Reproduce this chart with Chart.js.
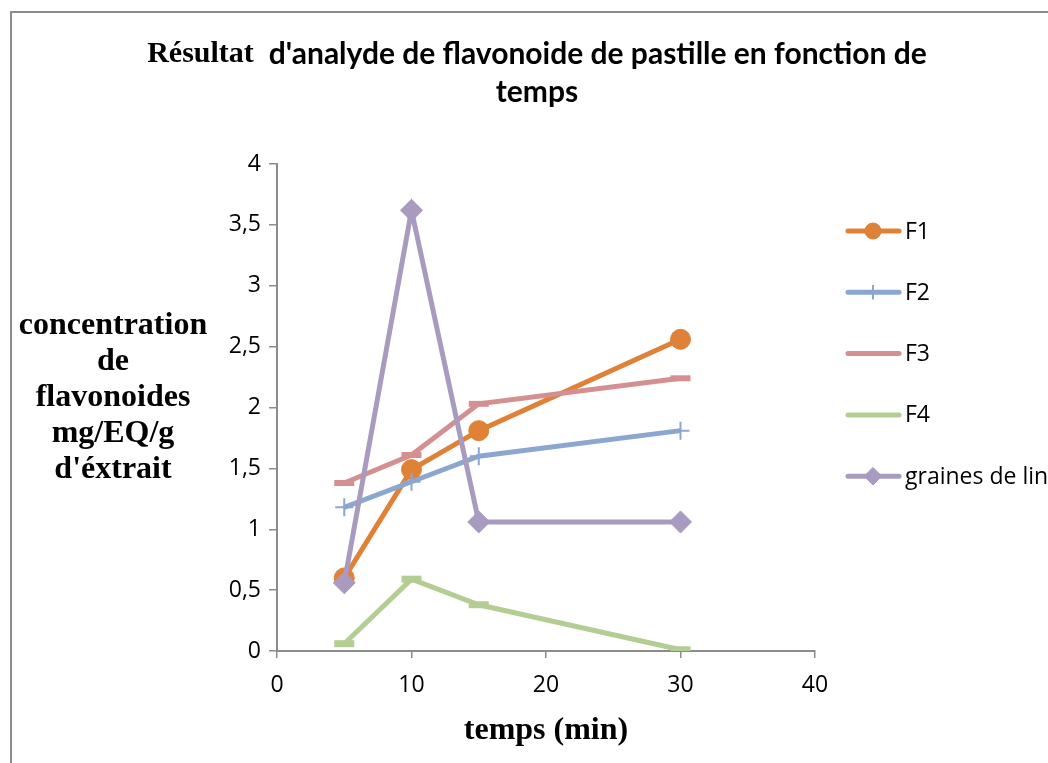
<!DOCTYPE html>
<html>
<head>
<meta charset="utf-8">
<script src="https://cdn.jsdelivr.net/npm/chart.js@4.4.1/dist/chart.umd.min.js"></script>
<style>
  html, body { margin: 0; padding: 0; background: #fff; overflow: hidden; }
  #wrap { position: relative; width: 1048px; height: 763px; }
  #frame { position: absolute; left: 10px; top: 11px; width: 1100px; height: 800px;
           border-top: 2px solid #8c8c8c; border-left: 2px solid #8c8c8c; }
  canvas { position: absolute; left: 0; top: 0; }
</style>
</head>
<body>
<div id="wrap">
  <div id="frame"></div>
  <canvas id="chart" width="1048" height="763"></canvas>
</div>
<script>
// data
const temps = [5, 10, 15, 30];
const f1 = [0.6, 1.49, 1.81, 2.56];
const f2 = [1.18, 1.39, 1.6, 1.81];
const f3 = [1.38, 1.61, 2.03, 2.24];
const f4 = [0.06, 0.59, 0.38, 0.01];
const graines = [0.56, 3.62, 1.06, 1.06];

const seriesNames = ['F1', 'F2', 'F3', 'F4', 'graines de lin'];
const yTickLabels = ['0', '0,5', '1', '1,5', '2', '2,5', '3', '3,5', '4'];
const titleLines = ["d'analyde de flavonoide de pastille en fonction de", 'temps'];
const yTitleLines = ['concentration', 'de', 'flavonoides', 'mg/EQ/g', "d'éxtrait"];

const tickFont = { family: '"Open Sans"', size: 23 };

function serie(label, values, color, style, radius, bw, order) {
    return {
        label: label,
        data: temps.map((t, i) => ({ x: t, y: values[i] })),
        borderColor: color,
        backgroundColor: color,
        borderWidth: 5,
        pointStyle: style,
        pointRadius: radius,
        pointHoverRadius: radius,
        pointBorderWidth: bw,
        pointBackgroundColor: color,
        pointBorderColor: color,
        tension: 0,
        fill: false,
        order: order
    };
}

// draws title, horizontal y title, x title and the legend
const decor = {
    id: 'decor',
    afterDraw(chart) {
        const ctx = chart.ctx;
        const area = chart.chartArea;
        ctx.save();
        ctx.fillStyle = '#000';
        ctx.textBaseline = 'middle';

        // title, first word in serif like the original
        ctx.font = 'bold 30px "Liberation Serif"';
        const w1 = ctx.measureText('Résultat  ').width;
        ctx.font = 'bold 30px Lato';
        const w2 = ctx.measureText(titleLines[0]).width;
        const cx = 537;
        let x0 = cx - (w1 + w2) / 2;
        ctx.textAlign = 'left';
        ctx.font = 'bold 30px "Liberation Serif"';
        ctx.fillText('Résultat  ', x0, 54);
        ctx.font = 'bold 30px Lato';
        ctx.fillText(titleLines[0], x0 + w1, 54);
        ctx.textAlign = 'center';
        ctx.fillText(titleLines[1], cx, 92);

        // y title
        ctx.font = 'bold 32px "Liberation Serif"';
        yTitleLines.forEach((t, i) => ctx.fillText(t, 113, 326 + i * 36));

        // x title
        ctx.fillText('temps (min)', (area.left + area.right) / 2, 731);

        // legend
        ctx.textAlign = 'left';
        ctx.font = '23px "Open Sans"';
        chart.data.datasets.forEach((ds, i) => {
            const y = 231 + i * 61.3;
            ctx.strokeStyle = ds.borderColor;
            ctx.fillStyle = ds.borderColor;
            ctx.lineWidth = 5;
            ctx.lineCap = 'round';
            ctx.beginPath();
            ctx.moveTo(848, y);
            ctx.lineTo(899, y);
            ctx.stroke();
            ctx.lineCap = 'butt';
            if (ds.pointStyle !== 'line') {
                ctx.lineWidth = ds.pointBorderWidth;
                Chart.helpers.drawPoint(ctx, {
                    pointStyle: ds.pointStyle,
                    radius: ds.pointRadius * 0.8,
                    borderWidth: ds.pointBorderWidth,
                    rotation: 0
                }, 873, y);
            }
            ctx.fillStyle = '#000';
            ctx.fillText(ds.label, 905, y + 1);
        });
        ctx.restore();
    }
};

const ctx = document.getElementById('chart').getContext('2d');

new Chart(ctx, {
    type: 'line',
    data: {
        datasets: [
            serie(seriesNames[0], f1, '#df8136', 'circle', 10, 1, 5),
            serie(seriesNames[1], f2, '#8ba7cf', 'cross', 9, 2, 4),
            serie(seriesNames[2], f3, '#d49090', 'line', 10, 6, 3),
            serie(seriesNames[3], f4, '#b4cd92', 'line', 10, 7, 2),
            serie(seriesNames[4], graines, '#a99abf', 'rectRot', 11, 1, 1)
        ]
    },
    options: {
        responsive: false,
        devicePixelRatio: 1,
        animation: false,
        layout: {
            padding: { left: 227, right: 233, top: 164, bottom: 62 }
        },
        plugins: {
            legend: { display: false },
            title: { display: false },
            tooltip: { enabled: false }
        },
        scales: {
            x: {
                type: 'linear',
                min: 0,
                max: 40,
                ticks: { stepSize: 10, font: tickFont, color: '#000', padding: 14 },
                grid: { drawOnChartArea: false, tickLength: 7, color: '#8c8c8c', lineWidth: 1.5 },
                border: { color: '#8c8c8c', width: 2 },
                afterFit: s => { s.height = 50; }
            },
            y: {
                min: 0,
                max: 4,
                ticks: {
                    stepSize: 0.5,
                    font: tickFont,
                    color: '#000',
                    padding: 8,
                    callback: (v, i) => yTickLabels[i]
                },
                grid: { drawOnChartArea: false, tickLength: 8, color: '#8c8c8c', lineWidth: 1.5 },
                border: { color: '#8c8c8c', width: 2 },
                afterFit: s => { s.width = 50; }
            }
        }
    },
    plugins: [decor]
});
</script>
</body>
</html>
